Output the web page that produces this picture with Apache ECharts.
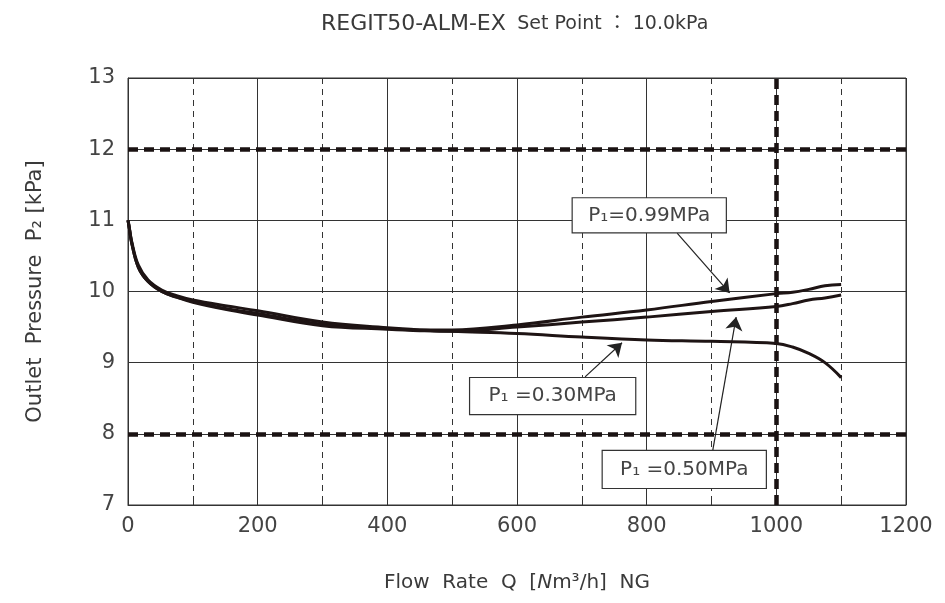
<!DOCTYPE html>
<html>
<head>
<meta charset="utf-8">
<script src="https://cdn.jsdelivr.net/npm/echarts@6/dist/echarts.min.js"></script>
<style>
html,body{margin:0;padding:0;background:#fff;}
#c{width:945px;height:603px;}
</style>
</head>
<body>
<div id="c"></div>
<script>
// ---- data ----
var flow = [0, 2, 6, 16, 31, 52, 75, 100, 150, 200, 300, 400, 450, 500, 600, 700, 800, 900, 1000, 1025, 1050, 1075, 1100];
var p030 = [11.0, 10.9, 10.69, 10.37, 10.16, 10.02, 9.94, 9.88, 9.80, 9.73, 9.57, 9.49, 9.46, 9.44, 9.41, 9.36, 9.32, 9.30, 9.27, 9.22, 9.13, 9.00, 8.79];
var p099 = [11.0, 10.89, 10.67, 10.34, 10.14, 10.00, 9.92, 9.86, 9.76, 9.69, 9.54, 9.48, 9.46, 9.46, 9.53, 9.64, 9.74, 9.86, 9.97, 9.99, 10.03, 10.08, 10.10];
var p050 = [11.0, 10.89, 10.67, 10.34, 10.14, 10.00, 9.92, 9.85, 9.75, 9.67, 9.52, 9.47, 9.45, 9.44, 9.50, 9.57, 9.64, 9.72, 9.79, 9.83, 9.88, 9.91, 9.95];
var seriesNames = ['P₁=0.30MPa', 'P₁=0.99MPa', 'P₁=0.50MPa'];
var boxLabels = ['P₁ =0.30MPa', 'P₁=0.99MPa', 'P₁ =0.50MPa'];
// annotation anchors (data coords): box centre, arrow start, arrow end
var boxCentre = [[655, 8.53], [804, 11.07], [858, 7.50]];
var arrowFrom = [[705, 8.80], [847, 10.82], [902, 7.77]];
var arrowTo   = [[762, 9.28], [928, 9.98], [938, 9.64]];
var limitsY = [12, 8];
var limitX = 1000;
var xTicks = [0, 1200, 200];
var yTicks = [7, 13, 1];

function pairs(xs, ys){ return xs.map(function(x,i){ return [x, ys[i]]; }); }

var FONT = '"DejaVu Sans", "Noto Sans CJK JP", sans-serif';
var LINE = '#1e1414';
var TXT = '#3a3a3a';
var boxSizes = [[165, 36], [153, 34], [163, 37]];

function makeSeries(idx, vals){
  return {
    name: seriesNames[idx],
    type: 'line',
    data: pairs(flow, vals),
    smooth: 0.4,
    showSymbol: false,
    symbol: 'none',
    lineStyle: {color: LINE, width: 3},
    z: 5,
    markPoint: {
      symbol: 'circle',
      symbolSize: 1,
      silent: true,
      itemStyle: {color: 'rgba(0,0,0,0)'},
      label: {
        show: true, position: 'inside', align: 'center', verticalAlign: 'middle',
        color: '#444', fontSize: 20, fontFamily: FONT, formatter: boxLabels[idx],
        backgroundColor: '#fff', borderColor: '#333', borderWidth: 1.2,
        width: boxSizes[idx][0], height: boxSizes[idx][1], lineHeight: boxSizes[idx][1]
      },
      data: [{coord: boxCentre[idx]}]
    },
    markLine: {
      silent: true,
      symbol: ['none', 'arrow'],
      symbolSize: 13,
      label: {show: false},
      lineStyle: {color: '#222', width: 1.2, type: 'solid'},
      data: [[{coord: arrowFrom[idx]}, {coord: arrowTo[idx]}]]
    }
  };
}

var limitSeries = {
  type: 'line', data: [], z: 4,
  markLine: {
    silent: true, symbol: ['none','none'], label: {show: false},
    lineStyle: {color: '#1a1212', width: 4.5, type: [10, 6]},
    data: limitsY.map(function(v){ return {yAxis: v}; }).concat([{xAxis: limitX}])
  }
};

var chart = echarts.init(document.getElementById('c'), null, {renderer: 'canvas'});
chart.setOption({
  animation: false,
  backgroundColor: '#fff',
  title: {
    text: '{a|REGIT50-ALM-EX}  {b|Set Point ： 10.0kPa}',
    left: 316, top: 8,
    textStyle: {
      fontFamily: FONT, fontWeight: 'normal',
      rich: {
        a: {fontSize: 22, color: TXT, fontFamily: FONT, fontWeight: 'normal'},
        b: {fontSize: 19, color: TXT, fontFamily: FONT, fontWeight: 'normal'}
      }
    }
  },
  grid: {left: 128, right: 39, top: 78, bottom: 98, show: true, borderColor: '#333', borderWidth: 1},
  xAxis: {
    type: 'value', min: xTicks[0], max: xTicks[1], interval: xTicks[2],
    name: 'Flow  Rate  Q  [{i|N}m³/h]  NG',
    nameLocation: 'middle', nameGap: 68,
    nameTextStyle: {fontSize: 20, color: TXT, fontFamily: FONT,
      rich: {i: {fontSize: 20, color: TXT, fontStyle: 'italic', fontFamily: FONT}}},
    axisLine: {show: true, lineStyle: {color: '#333', width: 1}},
    axisTick: {show: false, inside: true},
    minorTick: {show: true, splitNumber: 2, length: 5, lineStyle: {color: '#333'}},
    axisLabel: {fontSize: 21, color: '#444', margin: 11, fontFamily: FONT,
      formatter: function(v){ return String(v); }},
    splitLine: {show: true, lineStyle: {color: '#333', width: 1}},
    minorSplitLine: {show: true, lineStyle: {color: '#333', width: 1, type: [6, 5]}}
  },
  yAxis: {
    type: 'value', min: yTicks[0], max: yTicks[1], interval: yTicks[2],
    name: 'Outlet  Pressure  P₂ [kPa]',
    nameLocation: 'middle', nameGap: 82, nameRotate: 90,
    nameTextStyle: {fontSize: 21, color: TXT, fontFamily: FONT},
    axisLine: {show: true, lineStyle: {color: '#333', width: 1}},
    axisTick: {show: false},
    axisLabel: {fontSize: 21, color: '#444', margin: 13, fontFamily: FONT},
    splitLine: {show: true, lineStyle: {color: '#333', width: 1}}
  },
  series: [limitSeries, makeSeries(0, p030), makeSeries(1, p099), makeSeries(2, p050)]
});
</script>
</body>
</html>
